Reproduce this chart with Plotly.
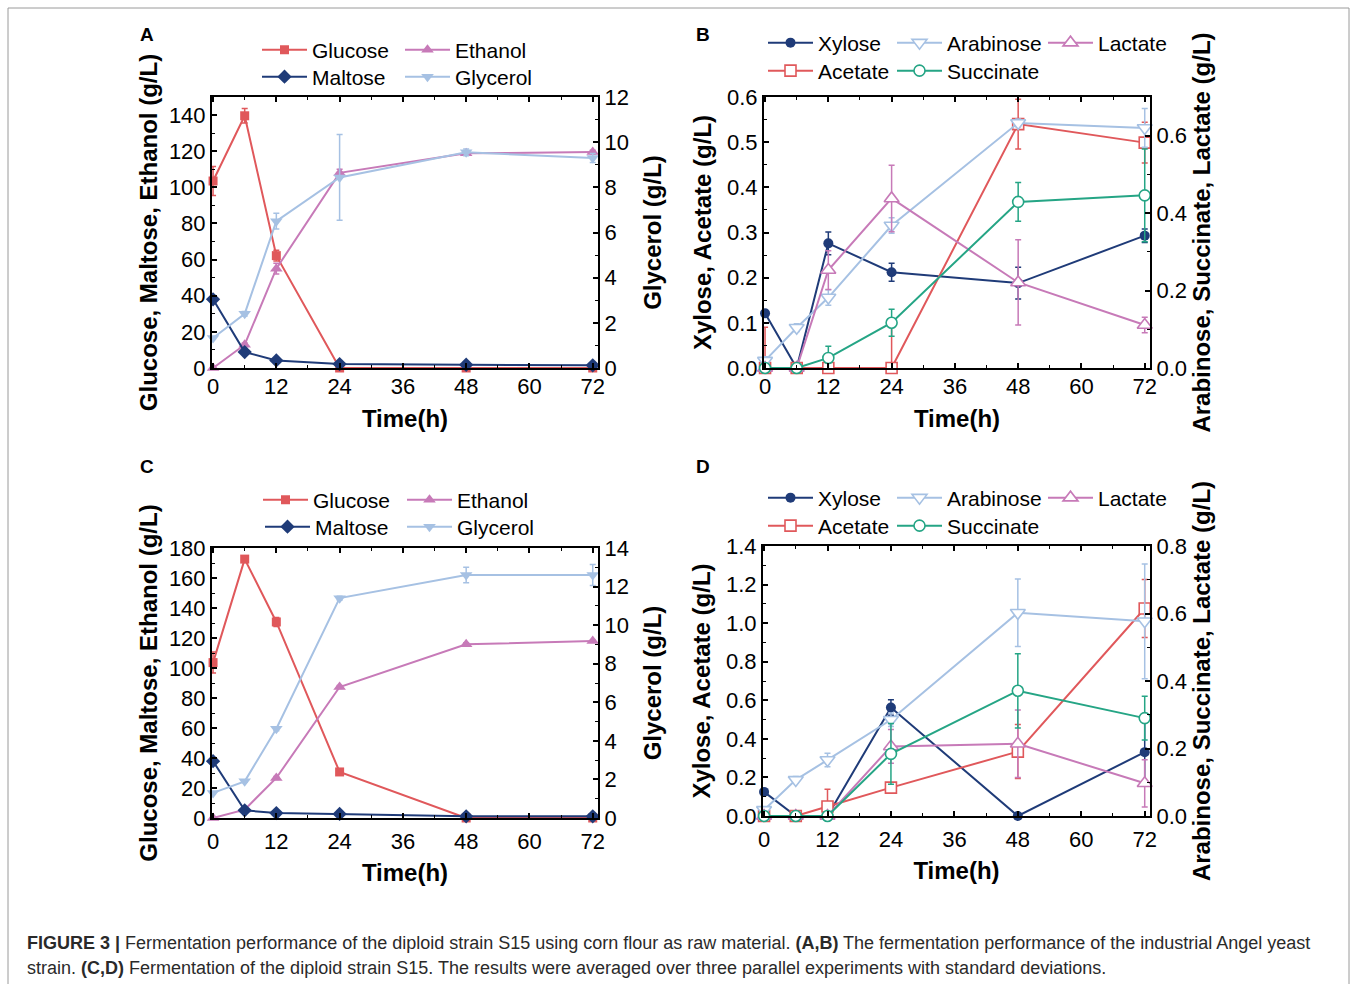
import plotly.graph_objects as go

# ---------------- data ----------------
time_h = [0, 6, 12, 24, 48, 72]
x_ticks = [0, 12, 24, 36, 48, 60, 72]

# Panel A (industrial Angel yeast) - left axis g/L, glycerol on right axis
glucose_A = [103.5, 139.6, 62.2, 0.0, 0.0, 0.0]
glucose_A_err = [8, 4, 3, 0, 0, 0]
maltose_A = [38.0, 8.8, 4.2, 2.2, 1.8, 1.5]
maltose_A_err = [1.5, 0.8, 0.5, 0.3, 0.3, 0.3]
ethanol_A = [0.0, 12.9, 55.0, 108.0, 118.8, 119.5]
ethanol_A_err = [0, 1, 3, 2, 1, 1]
glycerol_A = [1.33, 2.4, 6.5, 8.44, 9.55, 9.3]
glycerol_A_err = [0.05, 0.1, 0.35, 1.9, 0.15, 0.2]

# Panel B
xylose_B = [0.121, 0.0, 0.276, 0.212, 0.188, 0.293]
xylose_B_err = [0, 0, 0.025, 0.02, 0.035, 0.015]
acetate_B = [0.0, 0.0, 0.0, 0.0, 0.540, 0.499]
acetate_B_err = [0.09, 0, 0, 0.107, 0.055, 0.045]
arabinose_B = [0.019, 0.104, 0.182, 0.368, 0.633, 0.62]
arabinose_B_err = [0.01, 0.01, 0.02, 0.02, 0.01, 0.05]
lactate_B = [0.0, 0.0, 0.253, 0.438, 0.221, 0.111]
lactate_B_err = [0, 0, 0.05, 0.086, 0.11, 0.02]
succinate_B = [0.0, 0.0, 0.026, 0.117, 0.429, 0.446]
succinate_B_err = [0, 0, 0.03, 0.035, 0.05, 0.12]

# Panel C (diploid strain S15)
glucose_C = [103.6, 172.6, 130.7, 30.7, 0.0, 0.0]
glucose_C_err = [7, 1.5, 3, 1, 0, 0]
maltose_C = [37.9, 5.1, 3.3, 2.7, 1.1, 1.1]
maltose_C_err = [1, 0.5, 0.3, 0.3, 0.2, 0.2]
ethanol_C = [0.0, 5.6, 26.7, 87.3, 115.8, 118.0]
ethanol_C_err = [0, 0.5, 1, 1, 1, 0.5]
glycerol_C = [1.3, 1.9, 4.63, 11.4, 12.6, 12.6]
glycerol_C_err = [0.05, 0.05, 0.1, 0.1, 0.4, 0.55]

# Panel D
xylose_D = [0.125, 0.0, 0.0, 0.563, 0.0, 0.331]
xylose_D_err = [0, 0, 0, 0.04, 0, 0.17]
acetate_D = [0.0, 0.0, 0.049, 0.147, 0.334, 1.076]
acetate_D_err = [0, 0, 0.09, 0, 0.14, 0.15]
arabinose_D = [0.018, 0.107, 0.166, 0.285, 0.602, 0.577]
arabinose_D_err = [0.005, 0.01, 0.02, 0.02, 0.1, 0.17]
lactate_D = [0.0, 0.0, 0.0, 0.206, 0.214, 0.097]
lactate_D_err = [0, 0, 0, 0.05, 0.1, 0.07]
succinate_D = [0.0, 0.0, 0.0, 0.184, 0.371, 0.29]
succinate_D_err = [0, 0, 0, 0.09, 0.11, 0.065]

caption_1 = ("<b>FIGURE 3 |</b> Fermentation performance of the diploid strain S15 using corn flour as raw material. "
             "<b>(A,B)</b> The fermentation performance of the industrial Angel yeast")
caption_2 = ("strain. <b>(C,D)</b> Fermentation of the diploid strain S15. The results were averaged over three "
             "parallel experiments with standard deviations.")

# ---------------- styling ----------------
W, H = 1357, 984
FONT = "Liberation Sans, Arial, Helvetica, sans-serif"
RED = "#E0585B"
NAVY = "#1F3B78"
PINK = "#C77AB8"
LBLUE = "#A6C1E3"
TEAL = "#25A585"

STYLE = {
    'Glucose': dict(color=RED, symbol='square', size=9, open=False),
    'Maltose': dict(color=NAVY, symbol='diamond', size=11, open=False),
    'Ethanol': dict(color=PINK, symbol='triangle-up', size=11, open=False),
    'Glycerol': dict(color=LBLUE, symbol='triangle-down', size=11, open=False),
    'Xylose': dict(color=NAVY, symbol='circle', size=10, open=False),
    'Arabinose': dict(color=LBLUE, symbol='triangle-down', size=13, open=True),
    'Lactate': dict(color=PINK, symbol='triangle-up', size=13, open=True),
    'Acetate': dict(color=RED, symbol='square', size=11, open=True),
    'Succinate': dict(color=TEAL, symbol='circle', size=11, open=True),
}


def px(x):
    return x / W


def py(y):
    return 1 - y / H


panels = [
    dict(letter='A', letter_pos=(147, 35), xdom=(212, 598), ydom=(97, 368), tl_standoff=-2, xt_standoff=12,
         left=dict(range=[0, 150], tickvals=list(range(0, 141, 20)), minor=10, fmt=None,
                   title='Glucose, Maltose, Ethanol (g/L)', standoff=4),
         right=dict(range=[0, 12], tickvals=list(range(0, 13, 2)), minor=1, fmt=None,
                    title='Glycerol (g/L)', standoff=16),
         series=[('Glucose', glucose_A, glucose_A_err, 'l', (262, 50)),
                 ('Ethanol', ethanol_A, ethanol_A_err, 'l', (405, 50)),
                 ('Maltose', maltose_A, maltose_A_err, 'l', (262, 77)),
                 ('Glycerol', glycerol_A, glycerol_A_err, 'r', (405, 77))]),
    dict(letter='B', letter_pos=(703, 35), xdom=(764, 1150), ydom=(97, 368), tl_standoff=-2, xt_standoff=12,
         left=dict(range=[0, 0.6], tickvals=[0, 0.1, 0.2, 0.3, 0.4, 0.5, 0.6], minor=0.05, fmt='.1f',
                   title='Xylose, Acetate (g/L)', standoff=9),
         right=dict(range=[0, 0.7], tickvals=[0, 0.2, 0.4, 0.6], minor=0.1, fmt='.1f',
                    title='Arabinose, Succinate, Lactate (g/L)', standoff=7),
         series=[('Arabinose', arabinose_B, arabinose_B_err, 'r', (897, 43)),
                 ('Lactate', lactate_B, lactate_B_err, 'r', (1048, 43)),
                 ('Succinate', succinate_B, succinate_B_err, 'r', (897, 71)),
                 ('Xylose', xylose_B, xylose_B_err, 'l', (768, 43)),
                 ('Acetate', acetate_B, acetate_B_err, 'l', (768, 71))]),
    dict(letter='C', letter_pos=(147, 466), xdom=(212, 598), ydom=(548, 818), tl_standoff=3, xt_standoff=11,
         left=dict(range=[0, 180], tickvals=list(range(0, 181, 20)), minor=10, fmt=None,
                   title='Glucose, Maltose, Ethanol (g/L)', standoff=4),
         right=dict(range=[0, 14], tickvals=list(range(0, 15, 2)), minor=1, fmt=None,
                    title='Glycerol (g/L)', standoff=16),
         series=[('Glucose', glucose_C, glucose_C_err, 'l', (263, 500)),
                 ('Ethanol', ethanol_C, ethanol_C_err, 'l', (407, 500)),
                 ('Maltose', maltose_C, maltose_C_err, 'l', (265, 527)),
                 ('Glycerol', glycerol_C, glycerol_C_err, 'r', (407, 527))]),
    dict(letter='D', letter_pos=(703, 466), xdom=(763, 1150), ydom=(546, 816), tl_standoff=3, xt_standoff=11,
         left=dict(range=[0, 1.4], tickvals=[0, 0.2, 0.4, 0.6, 0.8, 1.0, 1.2, 1.4], minor=0.1, fmt='.1f',
                   title='Xylose, Acetate (g/L)', standoff=9),
         right=dict(range=[0, 0.8], tickvals=[0, 0.2, 0.4, 0.6, 0.8], minor=0.1, fmt='.1f',
                    title='Arabinose, Succinate, Lactate (g/L)', standoff=7),
         series=[('Arabinose', arabinose_D, arabinose_D_err, 'r', (897, 498)),
                 ('Lactate', lactate_D, lactate_D_err, 'r', (1048, 498)),
                 ('Succinate', succinate_D, succinate_D_err, 'r', (897, 526)),
                 ('Xylose', xylose_D, xylose_D_err, 'l', (768, 498)),
                 ('Acetate', acetate_D, acetate_D_err, 'l', (768, 526))]),
]

fig = go.Figure()
layout = {}
annotations = []
legend_count = 0

TICKFONT = dict(family=FONT, size=22, color='black')
TITLEFONT = dict(family=FONT, size=24, color='black', weight='bold')
ITEM_W = 45

for i, p in enumerate(panels):
    n = i + 1
    xname = 'x' if n == 1 else f'x{n}'
    yl_id = 2 * n - 1
    yr_id = 2 * n
    yl = 'y' if yl_id == 1 else f'y{yl_id}'
    yr = f'y{yr_id}'
    xkey = 'xaxis' if n == 1 else f'xaxis{n}'
    ylkey = 'yaxis' if yl_id == 1 else f'yaxis{yl_id}'
    yrkey = f'yaxis{yr_id}'

    xd = [px(p['xdom'][0]), px(p['xdom'][1])]
    yd = [py(p['ydom'][1]), py(p['ydom'][0])]

    layout[xkey] = dict(
        domain=xd, anchor=yl, range=[-0.2, 73.0], tickvals=x_ticks,
        showline=True, linecolor='black', linewidth=2, mirror='ticks',
        ticks='inside', ticklen=5, tickwidth=1.5, tickcolor='black',
        minor=dict(ticks='inside', ticklen=3, tickwidth=1.2, dtick=6, tick0=0, tickcolor='black'),
        showgrid=False, zeroline=False, tickfont=TICKFONT, automargin=False,
        ticklabelstandoff=p['tl_standoff'],
        title=dict(text='Time(h)', font=TITLEFONT, standoff=p['xt_standoff']),
    )
    L = p['left']
    layout[ylkey] = dict(
        domain=yd, anchor=xname, range=L['range'], tickvals=L['tickvals'],
        tickformat=L['fmt'] if L['fmt'] else None,
        showline=True, linecolor='black', linewidth=2, mirror=False,
        ticks='inside', ticklen=5, tickwidth=1.5, tickcolor='black',
        minor=dict(ticks='inside', ticklen=3, tickwidth=1.2, dtick=L['minor'], tick0=0, tickcolor='black'),
        showgrid=False, zeroline=False, tickfont=TICKFONT, automargin=False,
        title=dict(text=L['title'], font=TITLEFONT, standoff=L['standoff']),
    )
    R = p['right']
    layout[yrkey] = dict(
        domain=yd, anchor=xname, overlaying=yl, side='right',
        range=R['range'], tickvals=R['tickvals'],
        tickformat=R['fmt'] if R['fmt'] else None,
        showline=True, linecolor='black', linewidth=2,
        ticks='inside', ticklen=5, tickwidth=1.5, tickcolor='black',
        minor=dict(ticks='inside', ticklen=3, tickwidth=1.2, dtick=R['minor'], tick0=0, tickcolor='black'),
        showgrid=False, zeroline=False, tickfont=TICKFONT, automargin=False,
        title=dict(text=R['title'], font=TITLEFONT, standoff=R['standoff']),
    )

    for name, vals, errs, side, (lx, ly) in p['series']:
        st = STYLE[name]
        legend_count += 1
        lgkey = 'legend' if legend_count == 1 else f'legend{legend_count}'
        if st['open']:
            marker = dict(symbol=st['symbol'], size=st['size'], color='white',
                          line=dict(color=st['color'], width=1.6))
        else:
            marker = dict(symbol=st['symbol'], size=st['size'], color=st['color'],
                          line=dict(color=st['color'], width=0))
        fig.add_trace(go.Scatter(
            x=time_h, y=vals, name=name, mode='lines+markers',
            xaxis=xname, yaxis=yl if side == 'l' else yr,
            line=dict(color=st['color'], width=2),
            marker=marker,
            error_y=dict(type='data', array=errs, visible=True, color=st['color'],
                         thickness=1.5, width=3),
            cliponaxis=False, legend=lgkey, showlegend=True,
        ))
        layout[lgkey] = dict(
            x=px(lx - 5), y=py(ly), xanchor='left', yanchor='middle',
            orientation='h', itemwidth=ITEM_W, bgcolor='rgba(0,0,0,0)',
            borderwidth=0, font=dict(family=FONT, size=21, color='black'),
            tracegroupgap=0, itemclick=False, itemdoubleclick=False,
        )

    annotations.append(dict(
        text=f"<b>{p['letter']}</b>", x=px(p['letter_pos'][0]), y=py(p['letter_pos'][1]),
        xref='paper', yref='paper', xanchor='center', yanchor='middle', showarrow=False,
        font=dict(family=FONT, size=19, color='black'),
    ))

annotations.append(dict(
    text=caption_1, x=px(25), y=py(943), xref='paper', yref='paper',
    xanchor='left', yanchor='middle', showarrow=False, align='left',
    font=dict(family=FONT, size=18, color='#2a2a2a'),
))
annotations.append(dict(
    text=caption_2, x=px(25), y=py(968), xref='paper', yref='paper',
    xanchor='left', yanchor='middle', showarrow=False, align='left',
    font=dict(family=FONT, size=18, color='#2a2a2a'),
))

fig.update_layout(
    width=W, height=H, margin=dict(l=0, r=0, t=0, b=0),
    paper_bgcolor='white', plot_bgcolor='white',
    annotations=annotations,
    shapes=[dict(type='rect', xref='paper', yref='paper', x0=px(8), x1=px(1349),
                 y0=py(1000), y1=py(8), line=dict(color='#9a9a9a', width=1),
                 fillcolor='rgba(0,0,0,0)', layer='below')],
    **layout,
)

fig.write_html("out.html")
